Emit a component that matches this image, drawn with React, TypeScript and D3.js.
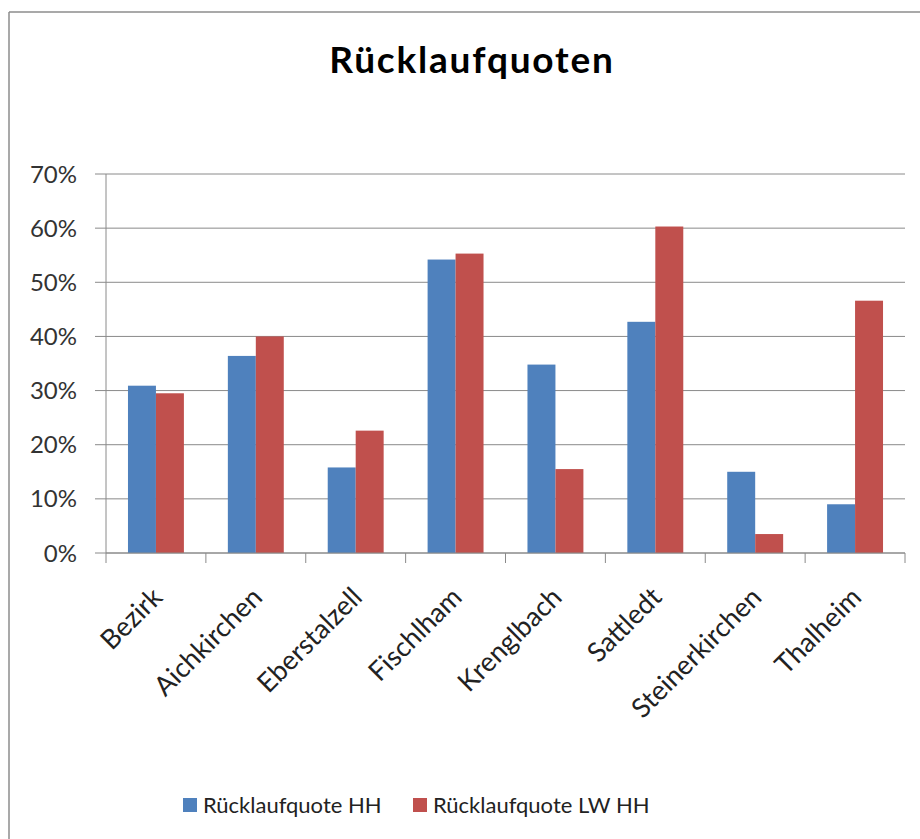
import React from "react";
import * as d3 from "d3";

const categories = ["Bezirk", "Aichkirchen", "Eberstalzell", "Fischlham", "Krenglbach", "Sattledt", "Steinerkirchen", "Thalheim"];
const seriesNames = ["Rücklaufquote HH", "Rücklaufquote LW HH"];
const hhValues = [0.309, 0.364, 0.158, 0.542, 0.348, 0.427, 0.150, 0.090];
const lwValues = [0.295, 0.400, 0.226, 0.553, 0.155, 0.603, 0.035, 0.466];
const yTicks = [0, 0.1, 0.2, 0.3, 0.4, 0.5, 0.6, 0.7];
const colors = ["#4F81BD", "#C0504D"];

const W = 920;
const H = 839;
const FONT = "Lato, 'Open Sans', sans-serif";

export default function App() {
  const left = 106, right = 905, top = 174, bottom = 553;
  const x = d3.scaleBand<string>().domain(categories).range([left, right]).paddingInner(0.44).paddingOuter(0.22);
  const step = (right - left) / categories.length;
  const x1 = d3.scaleBand<number>().domain([0, 1]).range([0, x.bandwidth()]);
  const y = d3.scaleLinear().domain([0, 0.7]).range([bottom, top]);
  const series = [hhValues, lwValues];
  const fmt = d3.format(".0%");

  return (
    <svg width={W} height={H} style={{ position: "absolute", left: 0, top: 0, background: "#fff" }}>
      <line x1={9} x2={W} y1={12} y2={12} stroke="#8c8c8c" strokeWidth={1.5} />
      <line x1={9} x2={9} y1={12} y2={H} stroke="#8c8c8c" strokeWidth={1.5} />
      <text x={472} y={73} textAnchor="middle" fontFamily={FONT} fontWeight="bold" fontSize={37} letterSpacing={1.8} fill="#000">Rücklaufquoten</text>
      {yTicks.map((t) => (
        <g key={t}>
          <line x1={left - 11} x2={right} y1={y(t)} y2={y(t)} stroke="#8a8a8a" strokeWidth={1} />
          <text x={77} y={y(t) + 8.5} textAnchor="end" fontFamily={FONT} fontSize={24} fill="#333">{fmt(t)}</text>
        </g>
      ))}
      {series.map((vals, si) =>
        vals.map((v, i) => (
          <rect key={si + "-" + i} x={(x(categories[i]) as number) + (x1(si) as number)} y={y(v)} width={x1.bandwidth()} height={y(0) - y(v)} fill={colors[si]} />
        ))
      )}
      <line x1={left} x2={left} y1={top} y2={bottom} stroke="#8a8a8a" />
      <line x1={left} x2={right} y1={bottom} y2={bottom} stroke="#8a8a8a" />
      {d3.range(categories.length + 1).map((i) => (
        <line key={i} x1={left + i * step} x2={left + i * step} y1={bottom} y2={bottom + 10} stroke="#8a8a8a" />
      ))}
      {categories.map((c) => {
        const cx = (x(c) as number) + x.bandwidth() / 2 + 8;
        const cy = bottom + 46;
        return (
          <text key={c} transform={`translate(${cx},${cy}) rotate(-45)`} textAnchor="end" fontFamily={FONT} fontSize={27} fill="#222">{c}</text>
        );
      })}
      <rect x={183} y={798} width={14} height={14} fill={colors[0]} />
      <text x={203} y={813} fontFamily={FONT} fontSize={22} fill="#222">{seriesNames[0]}</text>
      <rect x={413} y={798} width={14} height={14} fill={colors[1]} />
      <text x={433} y={813} fontFamily={FONT} fontSize={22} fill="#222">{seriesNames[1]}</text>
    </svg>
  );
}
